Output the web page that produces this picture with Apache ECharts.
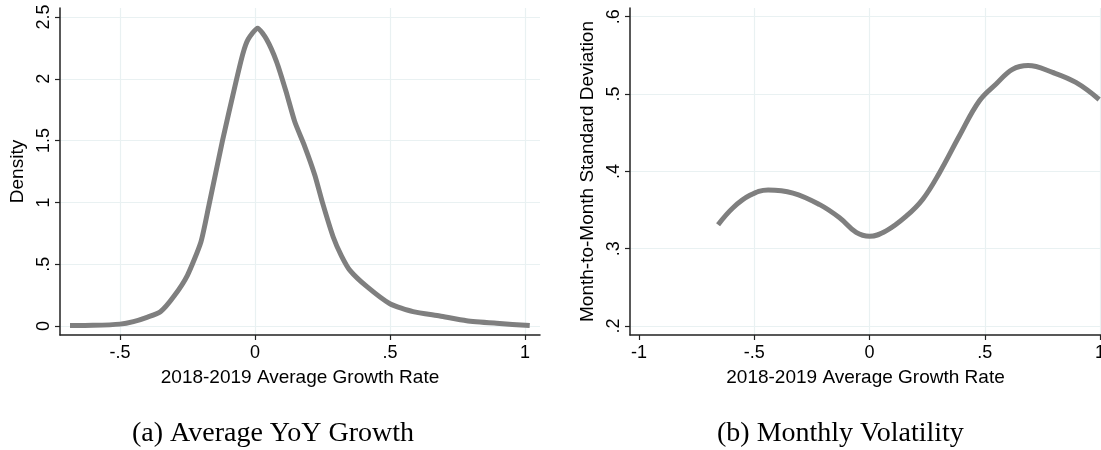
<!DOCTYPE html>
<html>
<head>
<meta charset="utf-8">
<script src="https://cdn.jsdelivr.net/npm/echarts@6/dist/echarts.min.js"></script>
<style>
  html, body { margin: 0; padding: 0; background: #fff; }
  #chart { width: 1101px; height: 450px; }
</style>
</head>
<body>
<div id="chart"></div>
<script>
// Panel (a): kernel density of 2018-2019 average growth rate
const densityX = [-0.685, -0.6, -0.5, -0.45, -0.4, -0.35, -0.3, -0.25, -0.2, -0.17, -0.12,
                  -0.074, -0.045, -0.025, 0.01, 0.043, 0.08, 0.115, 0.148, 0.185, 0.222, 0.25,
                  0.29, 0.32, 0.352, 0.414, 0.5, 0.586, 0.685, 0.784, 0.895, 1.018];
const densityY = [0.003, 0.005, 0.015, 0.035, 0.07, 0.115, 0.24, 0.41, 0.68, 0.98, 1.5,
                  1.94, 2.2, 2.32, 2.41, 2.32, 2.14, 1.9, 1.65, 1.45, 1.22, 1.0,
                  0.72, 0.57, 0.45, 0.32, 0.18, 0.116, 0.081, 0.043, 0.022, 0.003];

// Panel (b): smoothed month-to-month standard deviation
const volX = [-0.657, -0.592, -0.519, -0.44, -0.332, -0.216, -0.13, -0.058, 0, 0.072, 0.159,
              0.231, 0.303, 0.39, 0.476, 0.549, 0.62, 0.688, 0.794, 0.895, 0.996];
const volY = [0.331, 0.353, 0.369, 0.376, 0.372, 0.357, 0.340, 0.321, 0.316, 0.323, 0.342,
              0.364, 0.398, 0.446, 0.491, 0.513, 0.532, 0.537, 0.528, 0.515, 0.493];

// Tick values
const leftXTicks = [-0.5, 0, 0.5, 1];
const leftYTicks = [0, 0.5, 1, 1.5, 2, 2.5];
const rightXTicks = [-1, -0.5, 0, 0.5, 1];
const rightXGrid = [-0.5, 0, 0.5, 1];
const rightYTicks = [0.2, 0.3, 0.4, 0.5, 0.6];

const xTitle = '2018-2019 Average Growth Rate';
const captions = ['(a) Average YoY Growth', '(b) Monthly Volatility'];

const FONT = '"Liberation Sans", Arial, Helvetica, sans-serif';
const SERIF = '"Liberation Serif", "Times New Roman", serif';
const GRID_COLOR = '#e9f1f2';
const AXIS_COLOR = '#222';
const LINE_COLOR = '#7f7f7f';

// Stata-style numbers: ".5", "-.5", "2.5"
const fmt = v => String(Math.round(v * 1000) / 1000).replace(/^(-?)0\./, '$1.');

function xAxisDef(gridIndex, min, max, ticks, showName) {
  return {
    type: 'value', gridIndex, min, max, position: 'bottom',
    name: showName ? xTitle : '', nameLocation: 'middle', nameGap: 33,
    nameTextStyle: { fontFamily: FONT, fontSize: 19, color: '#000' },
    axisLine: { show: true, onZero: false, lineStyle: { color: AXIS_COLOR, width: 1.5 } },
    axisTick: { show: true, length: 5, customValues: ticks, lineStyle: { color: AXIS_COLOR, width: 1.2 } },
    axisLabel: { show: true, customValues: ticks, formatter: fmt, margin: 9,
                 fontFamily: FONT, fontSize: 18, color: '#000', showMinLabel: true, showMaxLabel: true },
    splitLine: { show: true, lineStyle: { color: GRID_COLOR, width: 1.2 } }
  };
}

function yAxisDef(gridIndex, min, max, ticks, name) {
  return {
    type: 'value', gridIndex, min, max,
    name, nameLocation: 'middle', nameGap: 33, nameRotate: 90,
    nameTextStyle: { fontFamily: FONT, fontSize: 19, color: '#000' },
    axisLine: { show: true, onZero: false, lineStyle: { color: AXIS_COLOR, width: 1.5 } },
    axisTick: { show: true, length: 5, customValues: ticks, lineStyle: { color: AXIS_COLOR, width: 1.2 } },
    axisLabel: { show: true, customValues: ticks, formatter: fmt, rotate: 90, margin: 16,
                 fontFamily: FONT, fontSize: 18, color: '#000', verticalAlign: 'middle', align: 'center' },
    splitLine: { show: true, lineStyle: { color: GRID_COLOR, width: 1.2 } }
  };
}

// Right panel: tick axis without grid lines, plus a bare axis that only carries vertical grid lines
const R_MIN = -1.039, R_MAX = 1.004;
const rightXMain = xAxisDef(1, R_MIN, R_MAX, rightXTicks, true);
rightXMain.splitLine = { show: false };
const rightXGridAxis = {
  type: 'value', gridIndex: 1, min: R_MIN, max: R_MAX, position: 'bottom',
  axisLine: { show: false }, axisLabel: { show: false },
  axisTick: { show: false, customValues: rightXGrid },
  splitLine: { show: true, lineStyle: { color: GRID_COLOR, width: 1.2 } }
};

const option = {
  backgroundColor: '#fff',
  animation: false,
  grid: [
    { left: 60, top: 8, width: 480, height: 327, containLabel: false, outerBoundsMode: 'none' },
    { left: 630, top: 8, width: 471, height: 327, containLabel: false, outerBoundsMode: 'none' }
  ],
  xAxis: [
    xAxisDef(0, -0.722, 1.056, leftXTicks, true),
    rightXGridAxis,
    rightXMain
  ],
  yAxis: [
    yAxisDef(0, -0.073, 2.573, leftYTicks, 'Density'),
    yAxisDef(1, 0.1884, 0.6113, rightYTicks, 'Month-to-Month Standard Deviation')
  ],
  series: [
    {
      type: 'line', xAxisIndex: 0, yAxisIndex: 0, showSymbol: false, smooth: 0.2,
      lineStyle: { color: LINE_COLOR, width: 5, cap: 'butt', join: 'round' },
      data: densityX.map((x, i) => [x, densityY[i]]), z: 5
    },
    {
      type: 'line', xAxisIndex: 2, yAxisIndex: 1, showSymbol: false, smooth: 0.4,
      lineStyle: { color: LINE_COLOR, width: 5, cap: 'butt', join: 'round' },
      data: volX.map((x, i) => [x, volY[i]]), z: 5
    }
  ],
  graphic: [
    { type: 'text', left: 132, top: 420,
      style: { text: captions[0], font: '28px ' + SERIF, fill: '#000' } },
    { type: 'text', left: 717, top: 420,
      style: { text: captions[1], font: '28px ' + SERIF, fill: '#000' } }
  ]
};

const chart = echarts.init(document.getElementById('chart'), null, { renderer: 'canvas' });
chart.setOption(option);
</script>
</body>
</html>
